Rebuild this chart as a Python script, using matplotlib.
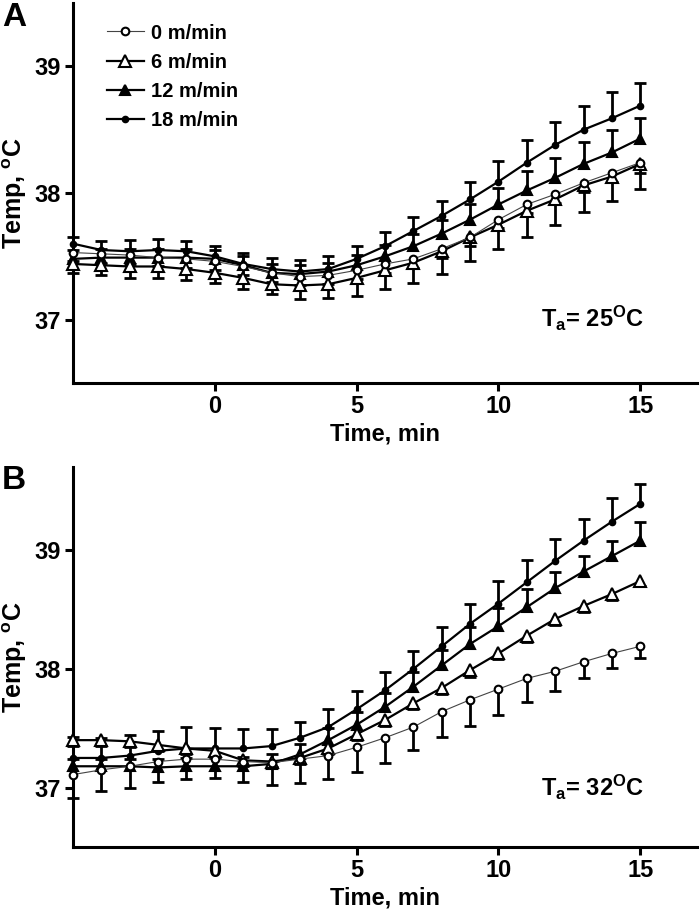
import matplotlib
matplotlib.use("Agg")
import matplotlib.pyplot as plt
import numpy as np

plt.rcParams['font.family'] = ['Liberation Sans', 'DejaVu Sans']
plt.rcParams['font.weight'] = 'bold'
plt.rcParams['mathtext.fontset'] = 'custom'
plt.rcParams['mathtext.rm'] = 'Liberation Sans:bold'
plt.rcParams['mathtext.it'] = 'Liberation Sans:bold'
plt.rcParams['mathtext.bf'] = 'Liberation Sans:bold'

# ---------------- data ----------------
time = list(range(-5, 16))
speeds = ["0 m/min", "6 m/min", "12 m/min", "18 m/min"]

# Panel A: Ta = 25 C
A_0 = [37.53, 37.52, 37.51, 37.49, 37.48, 37.46, 37.42, 37.37, 37.34, 37.35, 37.39,
       37.44, 37.48, 37.56, 37.65, 37.79, 37.91, 37.99, 38.08, 38.16, 38.24]
A_0_se = [0.07, 0.07, 0.07, 0.07, 0.07, 0.07, 0.07, 0.07, 0.07, 0.07, 0.07,
          0.07, 0.07, 0.07, 0.07, 0.07, 0.07, 0.07, 0.07, 0.07, 0.08]
A_6 = [37.44, 37.43, 37.42, 37.42, 37.40, 37.37, 37.33, 37.28, 37.27, 37.28, 37.33,
       37.39, 37.45, 37.54, 37.65, 37.75, 37.86, 37.95, 38.06, 38.13, 38.23]
A_6_se = [0.07, 0.08, 0.09, 0.09, 0.09, 0.08, 0.09, 0.08, 0.11, 0.11, 0.14,
          0.15, 0.16, 0.18, 0.19, 0.19, 0.21, 0.20, 0.21, 0.19, 0.20]
A_12 = [37.48, 37.49, 37.49, 37.49, 37.49, 37.48, 37.43, 37.37, 37.36, 37.38, 37.43,
        37.50, 37.58, 37.68, 37.79, 37.91, 38.02, 38.12, 38.23, 38.32, 38.43]
A_12_se = [0.07, 0.07, 0.07, 0.07, 0.07, 0.07, 0.07, 0.07, 0.07, 0.07, 0.08,
           0.09, 0.10, 0.11, 0.12, 0.13, 0.15, 0.16, 0.17, 0.18, 0.16]
A_18 = [37.60, 37.55, 37.54, 37.55, 37.54, 37.50, 37.44, 37.40, 37.38, 37.40, 37.48,
        37.58, 37.70, 37.82, 37.95, 38.09, 38.24, 38.38, 38.50, 38.59, 38.69]
A_18_se = [0.05, 0.07, 0.09, 0.09, 0.08, 0.08, 0.09, 0.09, 0.09, 0.10, 0.10,
           0.11, 0.11, 0.12, 0.14, 0.16, 0.18, 0.18, 0.19, 0.21, 0.18]

# Panel B: Ta = 32 C
B_0 = [37.11, 37.15, 37.18, 37.22, 37.24, 37.24, 37.22, 37.21, 37.24, 37.27, 37.34,
       37.42, 37.51, 37.64, 37.74, 37.83, 37.92, 37.98, 38.06, 38.13, 38.19]
B_0_se = [0.20, 0.18, 0.18, 0.17, 0.17, 0.16, 0.17, 0.19, 0.20, 0.20, 0.21,
          0.21, 0.19, 0.21, 0.22, 0.22, 0.20, 0.17, 0.14, 0.12, 0.10]
B_6 = [37.40, 37.40, 37.39, 37.36, 37.33, 37.31, 37.23, 37.22, 37.25, 37.33, 37.45,
       37.57, 37.71, 37.84, 37.99, 38.13, 38.28, 38.42, 38.53, 38.63, 38.74]
B_6_se = [0.05, 0.05, 0.05, 0.05, 0.05, 0.05, 0.05, 0.05, 0.05, 0.05, 0.05,
          0.05, 0.05, 0.05, 0.06, 0.05, 0.05, 0.05, 0.05, 0.05, 0.04]
B_12 = [37.18, 37.18, 37.18, 37.17, 37.18, 37.18, 37.18, 37.20, 37.28, 37.40, 37.53,
        37.68, 37.85, 38.03, 38.21, 38.36, 38.52, 38.68, 38.82, 38.95, 39.08]
B_12_se = [0.06, 0.06, 0.06, 0.07, 0.07, 0.07, 0.08, 0.08, 0.09, 0.10, 0.11,
           0.12, 0.12, 0.13, 0.14, 0.15, 0.15, 0.14, 0.13, 0.13, 0.16]
B_18 = [37.25, 37.25, 37.27, 37.31, 37.33, 37.33, 37.33, 37.35, 37.42, 37.51, 37.66,
        37.82, 38.00, 38.19, 38.38, 38.55, 38.73, 38.91, 39.08, 39.24, 39.39]
B_18_se = [0.18, 0.17, 0.17, 0.17, 0.18, 0.17, 0.16, 0.14, 0.13, 0.15, 0.15,
           0.15, 0.15, 0.16, 0.17, 0.19, 0.19, 0.18, 0.18, 0.20, 0.17]

x_ticks = [0, 5, 10, 15]
y_ticks = [37, 38, 39]

# ---------------- styling ----------------
styles = {
    "0 m/min":  dict(marker='o', mfc='white', ms=5.5, lw=0.8, color='#444444', dir=-1),
    "6 m/min":  dict(marker='^', mfc='white', ms=8, lw=1.6, color='black', dir=-1),
    "12 m/min": dict(marker='^', mfc='black', ms=7, lw=1.6, color='black', dir=1),
    "18 m/min": dict(marker='o', mfc='black', ms=4, lw=1.6, color='black', dir=1),
}

FS_TICK = 17
FS_LAB = 18


def draw_panel(ax, values, errs, ylim, ta_label, legend=False):
    t = np.array(time, dtype=float)
    for name in speeds:
        st = styles[name]
        y = np.array(values[name])
        e = np.array(errs[name]) * st['dir']
        ax.vlines(t, y, y + e, colors='black', lw=2.0, zorder=2, clip_on=False)
        ax.plot(t, y + e, ls='none', marker='_', ms=9, mew=2.0, color='black',
                zorder=2, clip_on=False)
    for name in speeds[::-1]:
        st = styles[name]
        y = np.array(values[name])
        ax.plot(t, y, color=st['color'], lw=st['lw'], marker=st['marker'],
                mfc=st['mfc'], mec='black', mew=1.5, ms=st['ms'], zorder=3,
                clip_on=False, label=name)
    ax.set_xlim(-5, 17)
    ax.set_ylim(*ylim)
    ax.set_xticks(x_ticks)
    ax.set_yticks(y_ticks)
    for s in ['top', 'right']:
        ax.spines[s].set_visible(False)
    for s in ['left', 'bottom']:
        ax.spines[s].set_linewidth(2.2)
    ax.tick_params(axis='both', direction='out', length=6, width=2.2,
                   labelsize=FS_TICK, pad=2.5)
    for lab in ax.get_xticklabels() + ax.get_yticklabels():
        lab.set_fontweight('bold')
    ax.text(0.5, -0.133, "Time, min", transform=ax.transAxes, ha='center',
            va='center', fontsize=17, fontweight='bold')
    ax.text(-0.093, 0.5, r"Temp, $^{\mathrm{o}}$C", transform=ax.transAxes,
            ha='center', va='center', rotation=90, fontsize=FS_LAB,
            fontweight='bold')
    ax.text(0.915, ta_label[1], ta_label[0], transform=ax.transAxes,
            ha='right', va='center', fontsize=FS_TICK, fontweight='bold')
    if legend:
        h, l = ax.get_legend_handles_labels()
        order = [l.index(n) for n in speeds]
        ax.legend([h[i] for i in order], [l[i] for i in order],
                  loc='upper left', bbox_to_anchor=(0.055, 0.946), frameon=False,
                  fontsize=14.5, handlelength=1.8, handletextpad=0.35,
                  labelspacing=0.5, borderpad=0, borderaxespad=0)


fig = plt.figure(figsize=(7, 9.15), dpi=100)
axA = fig.add_axes([0.1043, 0.5814, 0.8914, 0.4153])
axB = fig.add_axes([0.1043, 0.0743, 0.8914, 0.4153])

draw_panel(axA,
           {"0 m/min": A_0, "6 m/min": A_6, "12 m/min": A_12, "18 m/min": A_18},
           {"0 m/min": A_0_se, "6 m/min": A_6_se, "12 m/min": A_12_se, "18 m/min": A_18_se},
           (36.5, 39.5), (r"T$_{\mathrm{a}}$= 25$^{\mathrm{O}}$C", 0.171), legend=True)
draw_panel(axB,
           {"0 m/min": B_0, "6 m/min": B_6, "12 m/min": B_12, "18 m/min": B_18},
           {"0 m/min": B_0_se, "6 m/min": B_6_se, "12 m/min": B_12_se, "18 m/min": B_18_se},
           (36.5, 39.7), (r"T$_{\mathrm{a}}$= 32$^{\mathrm{O}}$C", 0.158))

fig.text(2 / 700, 1 - 2 / 915, "A", ha='left', va='top', fontsize=24, fontweight='bold')
fig.text(2 / 700, 1 - 465 / 915, "B", ha='left', va='top', fontsize=24, fontweight='bold')

fig.savefig("out.png", dpi=100)
